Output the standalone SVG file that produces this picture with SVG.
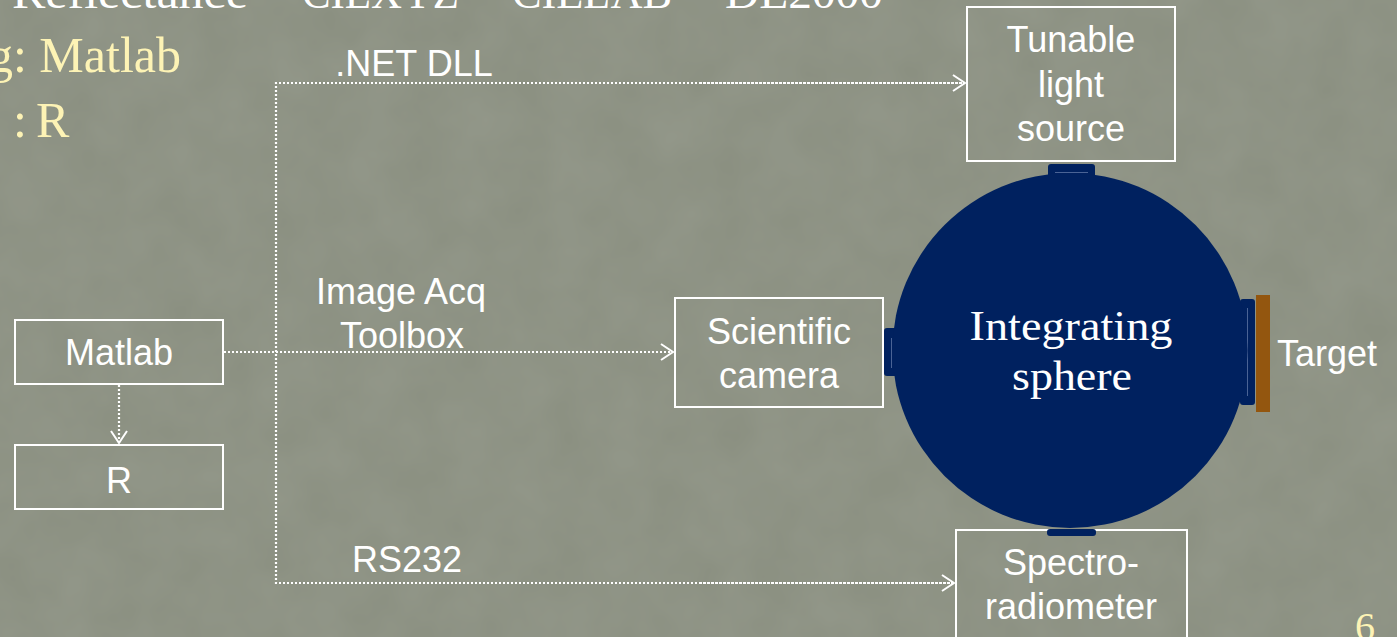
<svg xmlns="http://www.w3.org/2000/svg" width="1397" height="637" viewBox="0 0 1397 637">
<style>
.box{fill:none;stroke:#ffffff;stroke-width:2}
.lbl{font-family:"Liberation Sans",Arial,sans-serif;font-size:36px;fill:#ffffff;text-anchor:middle}
.conn{fill:none;stroke:#ffffff;stroke-width:2.2;stroke-dasharray:2 2}
.ser{font-family:"Liberation Serif","Times New Roman",serif;fill:#ffffff}
.yel{font-family:"Liberation Serif","Times New Roman",serif;fill:#fdf3b5}
.port{fill:#00215f}
.portln{stroke:#4a6395;stroke-width:1;fill:none}
</style>
<defs>
<marker id="arr" markerUnits="userSpaceOnUse" markerWidth="20" markerHeight="20" refX="14" refY="10" orient="auto">
<path d="M2,2 L14,10 L2,18" fill="none" stroke="#ffffff" stroke-width="2"/>
</marker>
<filter id="tex" x="0" y="0" width="100%" height="100%">
<feTurbulence type="fractalNoise" baseFrequency="0.02" numOctaves="3" seed="4" result="n"/>
<feColorMatrix in="n" type="matrix" values="0 0 0 0 0.5  0 0 0 0 0.52  0 0 0 0 0.47  0 0 0 0.18 0"/>
</filter>
</defs>
<rect x="0" y="0" width="1397" height="637" fill="#8a8f80"/>
<rect x="0" y="0" width="1397" height="637" filter="url(#tex)"/>

<g id="title">
<text class="ser" x="12" y="8" font-size="44" textLength="236" lengthAdjust="spacingAndGlyphs">Reflectance</text>
<text class="ser" x="302" y="8" font-size="44" textLength="157" lengthAdjust="spacingAndGlyphs">CIEXYZ</text>
<text class="ser" x="512" y="8" font-size="44" textLength="160" lengthAdjust="spacingAndGlyphs">CIELAB</text>
<text class="ser" x="725" y="8" font-size="44" textLength="158" lengthAdjust="spacingAndGlyphs">DE2000</text>
<text class="yel" x="181" y="72" font-size="50" text-anchor="end">g: Matlab</text>
<text class="yel" y="137" font-size="50"><tspan x="13">:</tspan><tspan x="36">R</tspan></text>
<text class="yel" x="1355" y="640" font-size="40">6</text>
</g>

<g id="connectors">
<line class="conn" x1="119" y1="385" x2="119" y2="443" marker-end="url(#arr)"/>
<line class="conn" x1="224" y1="352" x2="673" y2="352" marker-end="url(#arr)"/>
<polyline class="conn" points="965,83 276,83 276,583 954,583"/>
<line class="conn" x1="700" y1="83" x2="965" y2="83" marker-end="url(#arr)"/>
<line class="conn" x1="700" y1="583" x2="954" y2="583" marker-end="url(#arr)"/>
<text class="lbl" x="414" y="76">.NET DLL</text>
<text class="lbl" x="401" y="304">Image Acq</text>
<text class="lbl" x="402" y="348">Toolbox</text>
<text class="lbl" x="407" y="572">RS232</text>
</g>

<g id="matlab">
<rect class="box" x="15" y="320" width="208" height="64"/>
<text class="lbl" x="119" y="365">Matlab</text>
</g>

<g id="r">
<rect class="box" x="15" y="445" width="208" height="64"/>
<text class="lbl" x="119" y="493">R</text>
</g>

<g id="tunable">
<rect class="box" x="967" y="7" width="208" height="154"/>
<text class="lbl" x="1071" y="52">Tunable</text>
<text class="lbl" x="1071" y="97">light</text>
<text class="lbl" x="1071" y="141">source</text>
</g>

<g id="camera">
<rect class="box" x="675" y="298" width="208" height="109"/>
<text class="lbl" x="779" y="344">Scientific</text>
<text class="lbl" x="779" y="388">camera</text>
</g>

<g id="spectro">
<rect class="box" x="956" y="530" width="231" height="120"/>
<text class="lbl" x="1071" y="575">Spectro-</text>
<text class="lbl" x="1071" y="619">radiometer</text>
</g>

<g id="sphere">
<rect class="port" x="1048" y="164" width="47" height="14" rx="3"/>
<line class="portln" x1="1055" y1="172.5" x2="1088" y2="172.5"/>
<rect class="port" x="884" y="328" width="14" height="48" rx="3"/>
<line class="portln" x1="891.5" y1="338" x2="891.5" y2="368"/>
<rect class="port" x="1240" y="299" width="15" height="106" rx="3"/>
<line class="portln" x1="1247.5" y1="308" x2="1247.5" y2="396"/>
<circle cx="1070" cy="350.5" r="177.5" fill="#00215f"/>
<text class="ser" x="1071" y="340" font-size="42" text-anchor="middle" textLength="203" lengthAdjust="spacingAndGlyphs">Integrating</text>
<text class="ser" x="1072" y="390" font-size="42" text-anchor="middle" textLength="120" lengthAdjust="spacingAndGlyphs">sphere</text>
</g>

<g id="spectro-port">
<line x1="956" y1="530" x2="1187" y2="530" stroke="#ffffff" stroke-width="2"/>
<rect class="port" x="1047" y="529" width="49" height="7" rx="3"/>
</g>

<g id="target">
<rect x="1256" y="295" width="14" height="117" fill="#93560f"/>
<text class="lbl" x="1327" y="366">Target</text>
</g>
</svg>
